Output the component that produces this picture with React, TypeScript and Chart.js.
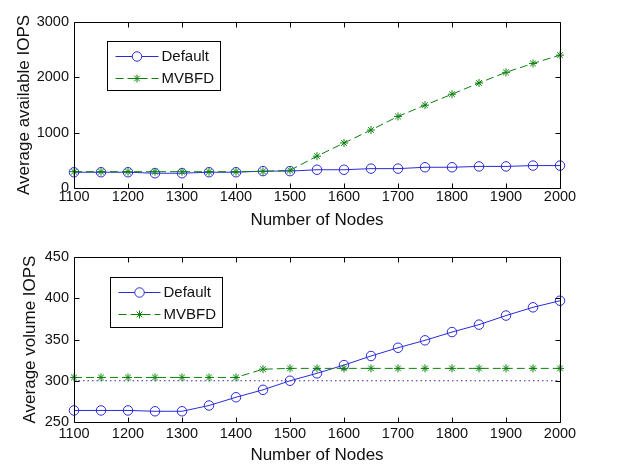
import React, { useEffect, useRef } from "react";
import { Chart, registerables } from "chart.js";

Chart.register(...registerables);

// ---------- data ----------
const nodes = [1100, 1150, 1200, 1250, 1300, 1350, 1400, 1450, 1500, 1550, 1600, 1650, 1700, 1750, 1800, 1850, 1900, 1950, 2000];

const availDefault = [285, 285, 285, 267, 267, 285, 285, 305, 305, 330, 330, 350, 350, 375, 375, 390, 390, 405, 405];
const availMVBFD = [295, 295, 295, 295, 295, 295, 295, 300, 320, 575, 814, 1048, 1293, 1497, 1695, 1898, 2090, 2251, 2401];

const volDefault = [264, 264, 264, 263, 263, 270, 280, 289, 300, 309, 319, 330, 340, 349, 359, 368, 379, 389, 397];
const volMVBFD = [304, 304, 304, 304, 304, 304, 304, 314, 315, 315, 315, 315, 315, 315, 315, 315, 315, 315, 315];

const refNodes = [1100, 2000];
const volReference = [300, 300];

const seriesLabels = ["Default", "MVBFD"];
const xTitle = "Number of Nodes";
const availTitle = "Average available IOPS";
const volTitle = "Average volume IOPS";

// ---------- styles ----------
const FONT = "'Liberation Sans', Arial, Helvetica, sans-serif";
const BLUE = "#2a2ad8";
const GREEN = "#0c820c";
const TEXT = "#111111";

const pts = (xs: number[], ys: number[]) => xs.map((x, i) => ({ x, y: ys[i] }));

const framePlugin = {
  id: "matlabFrame",
  afterDatasetsDraw(chart: any, _args: any, opts: any) {
    const { ctx, chartArea: a, scales } = chart;
    ctx.save();
    ctx.strokeStyle = "#000";
    ctx.lineWidth = 1;
    ctx.setLineDash([]);
    const L = Math.round(a.left) + 0.5;
    const R = Math.round(a.right) + 0.5;
    const T = Math.round(a.top) + 0.5;
    const B = Math.round(a.bottom) + 0.5;
    ctx.beginPath();
    ctx.rect(L, T, R - L, B - T);
    const tl = 5;
    scales.x.ticks.forEach((t: any) => {
      const px = Math.round(scales.x.getPixelForValue(t.value)) + 0.5;
      ctx.moveTo(px, B);
      ctx.lineTo(px, B - tl);
      ctx.moveTo(px, T);
      ctx.lineTo(px, T + tl);
    });
    scales.y.ticks.forEach((t: any) => {
      const py = Math.round(scales.y.getPixelForValue(t.value)) + 0.5;
      ctx.moveTo(L, py);
      ctx.lineTo(L + tl, py);
      ctx.moveTo(R, py);
      ctx.lineTo(R - tl, py);
    });
    ctx.stroke();

    // legend
    const lg = opts.legend;
    if (lg) {
      const bx = Math.round(a.left + lg.x) + 0.5;
      const by = Math.round(a.top + lg.y) + 0.5;
      ctx.fillStyle = "#fff";
      ctx.fillRect(bx, by, lg.w, lg.h);
      ctx.strokeStyle = "#000";
      ctx.lineWidth = 1;
      ctx.strokeRect(bx, by, lg.w, lg.h);
      const items = chart.data.datasets.filter((d: any) => d.label);
      items.forEach((d: any, i: number) => {
        const y = Math.round(by + lg.row0 + i * lg.gap) + 0.5;
        const x0 = bx + lg.lineStart;
        const x1 = bx + lg.lineEnd;
        ctx.strokeStyle = d.borderColor;
        ctx.lineWidth = d.borderWidth || 1;
        ctx.setLineDash(d.borderDash || []);
        ctx.beginPath();
        ctx.moveTo(x0, y);
        ctx.lineTo(x1, y);
        ctx.stroke();
        ctx.setLineDash([]);
        const mx = (x0 + x1) / 2;
        const r = d.pointRadius;
        ctx.strokeStyle = d.pointBorderColor;
        ctx.lineWidth = d.pointBorderWidth || 1;
        ctx.beginPath();
        if (d.pointStyle === "circle") {
          ctx.fillStyle = "#fff";
          ctx.arc(mx, y, r, 0, Math.PI * 2);
          ctx.fill();
        } else {
          ctx.moveTo(mx - r, y);
          ctx.lineTo(mx + r, y);
          ctx.moveTo(mx, y - r);
          ctx.lineTo(mx, y + r);
          const o = r * Math.SQRT1_2;
          ctx.moveTo(mx - o, y - o);
          ctx.lineTo(mx + o, y + o);
          ctx.moveTo(mx - o, y + o);
          ctx.lineTo(mx + o, y - o);
        }
        ctx.stroke();
        ctx.fillStyle = TEXT;
        ctx.font = `${lg.fontSize}px ${FONT}`;
        ctx.textAlign = "left";
        ctx.textBaseline = "middle";
        ctx.fillText(d.label, bx + lg.textX, y);
      });
    }
    ctx.restore();
  },
};

function makeConfig(p: {
  defaultData: number[];
  mvbfdData: number[];
  withRef: boolean;
  yMin: number;
  yMax: number;
  yStep: number;
  yTitle: string;
  padTop: number;
  xHeight: number;
  xTickPad: number;
  xTitlePad: number;
  yTitlePad: number;
  legend: any;
}) {
  const datasets: any[] = [
    {
      label: seriesLabels[0],
      data: pts(nodes, p.defaultData),
      borderColor: BLUE,
      borderWidth: 1,
      pointStyle: "circle",
      pointRadius: 4.75,
      pointBorderWidth: 1,
      pointBorderColor: BLUE,
      pointBackgroundColor: "rgba(0,0,0,0)",
      tension: 0,
      clip: false,
      order: 1,
    },
    {
      label: seriesLabels[1],
      data: pts(nodes, p.mvbfdData),
      borderColor: GREEN,
      borderWidth: 1,
      borderDash: [8, 4],
      pointStyle: "star",
      pointRadius: 4,
      pointBorderWidth: 1,
      pointBorderColor: GREEN,
      pointBackgroundColor: GREEN,
      tension: 0,
      clip: false,
      order: 0,
    },
  ];
  if (p.withRef) {
    datasets.push({
      label: "",
      data: pts(refNodes, volReference),
      borderColor: "#30309a",
      borderWidth: 1,
      borderDash: [1.5, 3],
      pointRadius: 0,
      tension: 0,
      order: 2,
    });
  }
  const plain = (v: any) => String(v);
  return {
    type: "line" as const,
    data: { datasets },
    plugins: [framePlugin],
    options: {
      responsive: false,
      animation: false as const,
      events: [],
      devicePixelRatio: 1,
      layout: { padding: { top: p.padTop, right: 61, bottom: 0, left: 0 } },
      plugins: {
        legend: { display: false },
        tooltip: { enabled: false },
        matlabFrame: { legend: p.legend },
      },
      scales: {
        x: {
          type: "linear" as const,
          min: 1100,
          max: 2000,
          ticks: { stepSize: 100, padding: p.xTickPad, color: TEXT, font: { family: FONT, size: 14.5 }, maxRotation: 0, autoSkip: false, callback: plain },
          grid: { display: false, drawTicks: false },
          border: { display: false },
          title: { display: true, text: xTitle, color: TEXT, font: { family: FONT, size: 17 }, padding: { top: 0, bottom: p.xTitlePad } },
          afterFit: (s: any) => {
            s.height = p.xHeight;
          },
        },
        y: {
          type: "linear" as const,
          min: p.yMin,
          max: p.yMax,
          ticks: { stepSize: p.yStep, padding: 5, color: TEXT, font: { family: FONT, size: 14.5 }, callback: plain },
          grid: { display: false, drawTicks: false },
          border: { display: false },
          title: { display: true, text: p.yTitle, color: TEXT, font: { family: FONT, size: 17 }, padding: { top: p.yTitlePad, bottom: 0 } },
          afterFit: (s: any) => {
            s.width = 74;
          },
        },
      },
    },
  };
}

function Panel(props: { top: number; config: any }) {
  const ref = useRef<HTMLCanvasElement | null>(null);
  useEffect(() => {
    if (!ref.current) return;
    const chart = new Chart(ref.current, props.config);
    return () => chart.destroy();
  }, []);
  return (
    <canvas
      ref={ref}
      width={621}
      height={233}
      style={{ position: "absolute", left: 0, top: props.top, width: 621, height: 233 }}
    />
  );
}

export default function App() {
  const topCfg = makeConfig({
    defaultData: availDefault,
    mvbfdData: availMVBFD,
    withRef: false,
    yMin: 0,
    yMax: 3000,
    yStep: 1000,
    yTitle: availTitle,
    padTop: 22,
    xHeight: 45,
    xTickPad: 0,
    xTitlePad: 2,
    yTitlePad: 14,
    legend: { x: 33, y: 19, w: 113, h: 49, row0: 14, gap: 22, lineStart: 8, lineEnd: 51, textX: 54, fontSize: 15 },
  });
  const botCfg = makeConfig({
    defaultData: volDefault,
    mvbfdData: volMVBFD,
    withRef: true,
    yMin: 250,
    yMax: 450,
    yStep: 50,
    yTitle: volTitle,
    padTop: 24,
    xHeight: 44,
    xTickPad: 3,
    xTitlePad: 0.5,
    yTitlePad: 20,
    legend: { x: 36, y: 20, w: 112, h: 50, row0: 14.5, gap: 22.3, lineStart: 8, lineEnd: 50, textX: 53, fontSize: 15 },
  });
  return (
    <div style={{ position: "fixed", left: 0, top: 0, width: 621, height: 466, background: "#fff" }}>
      <Panel top={0} config={topCfg} />
      <Panel top={233} config={botCfg} />
    </div>
  );
}
